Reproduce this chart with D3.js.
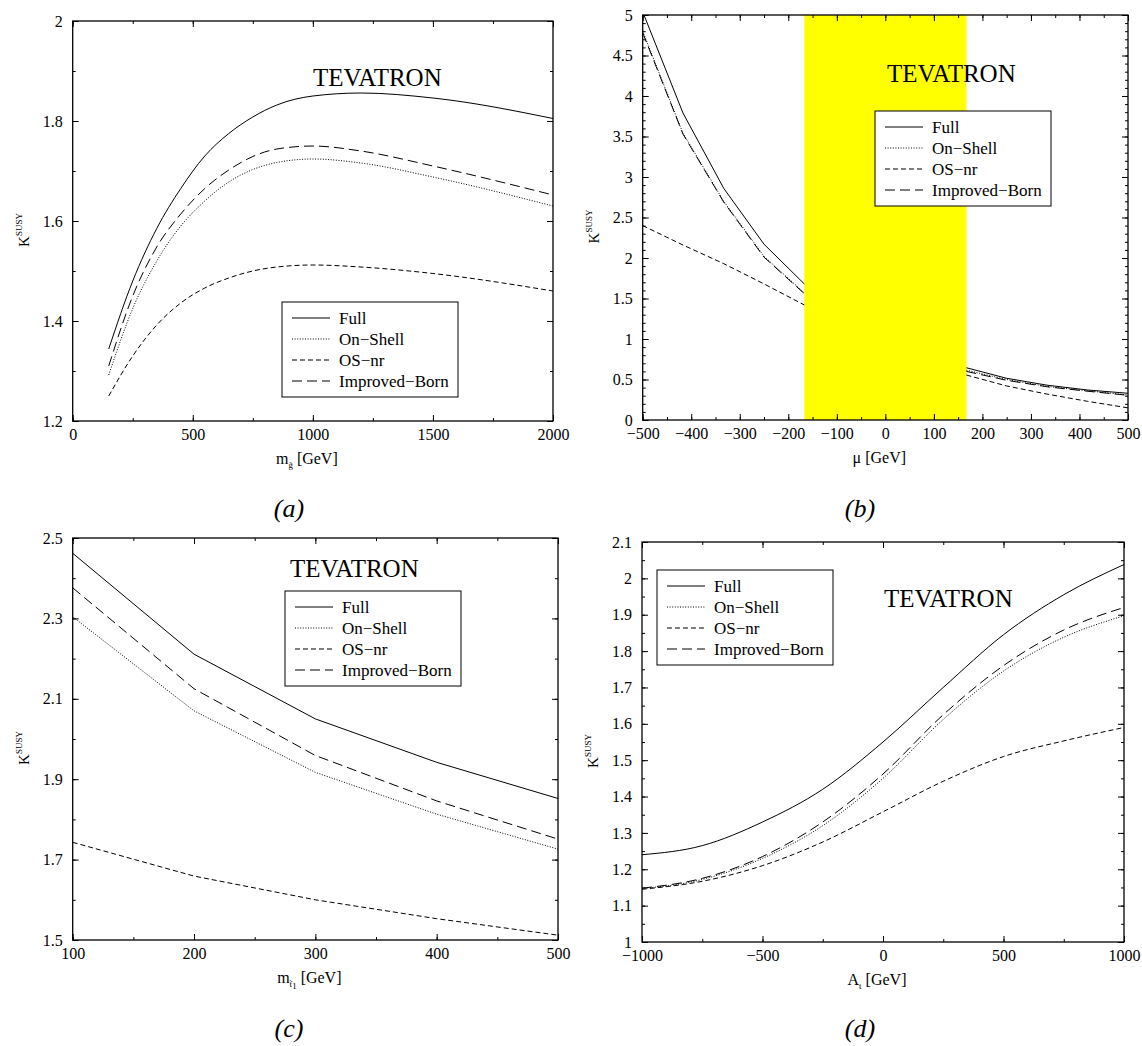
<!DOCTYPE html>
<html>
<head>
<meta charset="utf-8">
<script src="https://cdn.jsdelivr.net/npm/d3@7"></script>
<style>
  body { margin: 0; background: #fff; }
  text { font-family: "Liberation Serif", "Times New Roman", serif; fill: #000; }
</style>
</head>
<body>
<svg id="fig" width="1142" height="1046"></svg>
<script>
// ---- data ----
var seriesNames = ["Full", "On\u2212Shell", "OS\u2212nr", "Improved\u2212Born"];

// (a) gluino mass
var aX       = [150, 250, 350, 450, 550, 650, 750, 850, 1000, 1200, 1500, 2000];
var aFull    = [1.344, 1.480, 1.585, 1.665, 1.730, 1.775, 1.808, 1.832, 1.850, 1.856, 1.846, 1.805];
var aOnShell = [1.292, 1.425, 1.520, 1.590, 1.640, 1.678, 1.703, 1.717, 1.724, 1.716, 1.688, 1.630];
var aOSnr    = [1.250, 1.330, 1.392, 1.436, 1.466, 1.486, 1.500, 1.508, 1.512, 1.508, 1.495, 1.460];
var aImpBorn = [1.310, 1.450, 1.548, 1.614, 1.665, 1.702, 1.729, 1.744, 1.750, 1.740, 1.710, 1.652];
var aXTicks = [0, 500, 1000, 1500, 2000];
var aYTicks = [1.2, 1.4, 1.6, 1.8, 2];

// (b) mu  (null = excluded region)
var bX       = [-500, -417, -333, -250, -167, 0, 167, 250, 333, 417, 500];
var bFull    = [5.04, 3.79, 2.86, 2.17, 1.68, null, 0.645, 0.515, 0.430, 0.370, 0.330];
var bOnShell = [4.80, 3.54, 2.70, 2.02, 1.57, null, 0.615, 0.500, 0.415, 0.360, 0.310];
var bOSnr    = [2.40, 2.16, 1.93, 1.68, 1.42, null, 0.555, 0.420, 0.320, 0.230, 0.150];
var bImpBorn = [4.78, 3.53, 2.69, 2.01, 1.56, null, 0.600, 0.490, 0.410, 0.355, 0.305];
var bBand = [-167, 167];
var bXTicks = [-500, -400, -300, -200, -100, 0, 100, 200, 300, 400, 500];
var bYTicks = [0, 0.5, 1, 1.5, 2, 2.5, 3, 3.5, 4, 4.5, 5];

// (c) stop mass
var cX       = [100, 200, 300, 400, 500];
var cFull    = [2.462, 2.211, 2.050, 1.942, 1.852];
var cOnShell = [2.304, 2.070, 1.917, 1.813, 1.726];
var cOSnr    = [1.743, 1.659, 1.600, 1.553, 1.512];
var cImpBorn = [2.376, 2.125, 1.959, 1.846, 1.751];
var cXTicks = [100, 200, 300, 400, 500];
var cYTicks = [1.5, 1.7, 1.9, 2.1, 2.3, 2.5];

// (d) A_t
var dX       = [-1000, -750, -500, -250, 0, 250, 500, 750, 1000];
var dFull    = [1.240, 1.265, 1.330, 1.420, 1.550, 1.700, 1.845, 1.955, 2.038];
var dOnShell = [1.147, 1.172, 1.230, 1.320, 1.450, 1.612, 1.745, 1.838, 1.897];
var dOSnr    = [1.145, 1.167, 1.210, 1.275, 1.358, 1.442, 1.510, 1.553, 1.590];
var dImpBorn = [1.148, 1.175, 1.235, 1.330, 1.462, 1.625, 1.760, 1.858, 1.920];
var dXTicks = [-1000, -500, 0, 500, 1000];
var dYTicks = [1, 1.1, 1.2, 1.3, 1.4, 1.5, 1.6, 1.7, 1.8, 1.9, 2, 2.1];

var dashes = [null, "1,1.6", "5,3", "10,5"];
var fmt = d3.format("~g");
var svg = d3.select("#fig");

function panel(p) {
  var g = svg.append("g").attr("transform", "translate(" + p.left + "," + p.top + ")");
  var x = d3.scaleLinear().domain(p.xDomain).range([0, p.w]);
  var y = d3.scaleLinear().domain(p.yDomain).range([p.h, 0]);

  g.append("clipPath").attr("id", "clip-" + p.id)
    .append("rect").attr("width", p.w).attr("height", p.h);

  if (p.band) {
    g.append("rect")
      .attr("x", x(p.band[0])).attr("width", x(p.band[1]) - x(p.band[0]))
      .attr("y", 0).attr("height", p.h)
      .attr("fill", "#ffff00");
  }

  function clean(sel) {
    sel.select(".domain").remove();
    sel.selectAll(".tick line").attr("stroke", "#000").attr("stroke-width", 1);
    sel.attr("font-size", 16).attr("font-family", "Liberation Serif");
  }
  // minor ticks
  var xMinor = d3.range(p.xDomain[0], p.xDomain[1] + 1e-9, p.xMinor);
  var yMinor = d3.range(p.yDomain[0], p.yDomain[1] + 1e-9, p.yMinor);
  g.append("g").attr("transform", "translate(0," + p.h + ")")
    .call(d3.axisBottom(x).tickValues(xMinor).tickSize(-3).tickFormat("")).call(clean);
  g.append("g").call(d3.axisTop(x).tickValues(xMinor).tickSize(-3).tickFormat("")).call(clean);
  g.append("g").call(d3.axisLeft(y).tickValues(yMinor).tickSize(-3).tickFormat("")).call(clean);
  g.append("g").attr("transform", "translate(" + p.w + ",0)")
    .call(d3.axisRight(y).tickValues(yMinor).tickSize(-3).tickFormat("")).call(clean);
  // major ticks
  g.append("g").attr("transform", "translate(0," + p.h + ")")
    .call(d3.axisBottom(x).tickValues(p.xTicks).tickSize(-6).tickPadding(8).tickFormat(fmt)).call(clean);
  g.append("g").call(d3.axisTop(x).tickValues(p.xTicks).tickSize(-6).tickFormat("")).call(clean);
  g.append("g")
    .call(d3.axisLeft(y).tickValues(p.yTicks).tickSize(-6).tickPadding(10).tickFormat(fmt)).call(clean);
  g.append("g").attr("transform", "translate(" + p.w + ",0)")
    .call(d3.axisRight(y).tickValues(p.yTicks).tickSize(-6).tickFormat("")).call(clean);

  g.append("rect").attr("width", p.w).attr("height", p.h)
    .attr("fill", "none").attr("stroke", "#000").attr("stroke-width", 1.3);

  var line = d3.line()
    .defined(function(d) { return d[1] != null; })
    .x(function(d) { return x(d[0]); })
    .y(function(d) { return y(d[1]); })
    .curve(p.curve || d3.curveLinear);

  p.series.forEach(function(vals, i) {
    g.append("path")
      .datum(p.xs.map(function(v, j) { return [v, vals[j]]; }))
      .attr("clip-path", "url(#clip-" + p.id + ")")
      .attr("fill", "none").attr("stroke", "#000").attr("stroke-width", 1)
      .attr("stroke-dasharray", dashes[i])
      .attr("d", line);
  });

  // TEVATRON
  svg.append("text").attr("x", p.tev[0]).attr("y", p.tev[1])
    .attr("font-size", 25).text("TEVATRON");

  // legend
  var lg = svg.append("g").attr("transform", "translate(" + p.leg[0] + "," + p.leg[1] + ")");
  lg.append("rect").attr("width", 176).attr("height", 95)
    .attr("fill", "#fff").attr("stroke", "#000").attr("stroke-width", 1);
  seriesNames.forEach(function(name, i) {
    var yy = 16 + i * 21;
    lg.append("line").attr("x1", 10).attr("x2", 48).attr("y1", yy).attr("y2", yy)
      .attr("stroke", "#000").attr("stroke-width", 1).attr("stroke-dasharray", dashes[i]);
    lg.append("text").attr("x", 57).attr("y", yy + 6).attr("font-size", 17).text(name);
  });

  // y title
  var yt = g.append("text")
    .attr("transform", "translate(-44," + (p.h / 2 + 9) + ") rotate(-90)")
    .attr("text-anchor", "middle");
  yt.append("tspan").attr("font-size", 15).text("K");
  yt.append("tspan").attr("font-size", 9).attr("dy", -7).text("SUSY");

  // x title
  var xt = g.append("text").attr("x", p.w / 2 - 6).attr("y", p.h + 43)
    .attr("text-anchor", "middle").attr("font-size", 16);
  p.xTitle.forEach(function(part) {
    xt.append("tspan").attr("font-size", part[1]).attr("dy", part[2]).text(part[0]);
  });

  // panel label
  svg.append("text").attr("x", p.label[0]).attr("y", p.label[1])
    .attr("text-anchor", "middle").attr("font-size", 26).attr("font-style", "italic")
    .text(p.label[2]);
}

panel({
  id: "a", left: 72.7, top: 21, w: 480.3, h: 400,
  xDomain: [0, 2000], yDomain: [1.2, 2], xTicks: aXTicks, yTicks: aYTicks, xMinor: 250, yMinor: 0.1,
  xs: aX, series: [aFull, aOnShell, aOSnr, aImpBorn], curve: d3.curveMonotoneX,
  tev: [313, 86], leg: [282, 302], label: [289, 517, "(a)"],
  xTitle: [["m", 16, 0], ["g\u0303", 9, 4], [" [GeV]", 16, -4]]
});
panel({
  id: "b", left: 642.7, top: 15, w: 485.3, h: 405,
  xDomain: [-500, 500], yDomain: [0, 5], xTicks: bXTicks, yTicks: bYTicks, xMinor: 50, yMinor: 0.1,
  xs: bX, series: [bFull, bOnShell, bOSnr, bImpBorn], band: bBand,
  tev: [887, 82], leg: [875, 111], label: [860, 517, "(b)"],
  xTitle: [["\u03bc [GeV]", 16, 0]]
});
panel({
  id: "c", left: 72.7, top: 538, w: 485.3, h: 402,
  xDomain: [100, 500], yDomain: [1.5, 2.5], xTicks: cXTicks, yTicks: cYTicks, xMinor: 50, yMinor: 0.1,
  xs: cX, series: [cFull, cOnShell, cOSnr, cImpBorn],
  tev: [290, 577], leg: [285, 591], label: [289, 1037, "(c)"],
  xTitle: [["m", 16, 0], ["t\u0303", 9, 4], ["1", 9, 2], [" [GeV]", 16, -6]]
});
panel({
  id: "d", left: 642, top: 542, w: 482, h: 400,
  xDomain: [-1000, 1000], yDomain: [1, 2.1], xTicks: dXTicks, yTicks: dYTicks, xMinor: 250, yMinor: 0.05,
  xs: dX, series: [dFull, dOnShell, dOSnr, dImpBorn], curve: d3.curveMonotoneX,
  tev: [884, 607], leg: [657, 570], label: [860, 1037, "(d)"],
  xTitle: [["A", 16, 0], ["t", 9, 4], [" [GeV]", 16, -4]]
});
</script>
</body>
</html>
